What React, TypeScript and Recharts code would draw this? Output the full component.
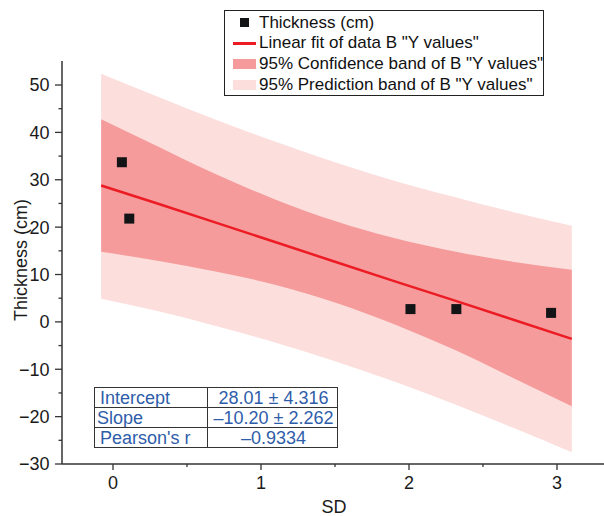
import React from "react";
import { ComposedChart, Area, Line, Scatter, XAxis, YAxis, Legend } from "recharts";

const FONT = '"Liberation Sans", Arial, Helvetica, sans-serif';

// measured points
const sdValues = [0.06, 0.11, 2.01, 2.32, 2.96];
const thicknessValues = [33.7, 21.8, 2.7, 2.7, 1.9];

// fit line and bands
const bandSD = [-0.08, 0.3, 0.7, 1.1, 1.5, 1.9, 2.3, 2.7, 3.1];
const fitLine = [28.8, 25.0, 20.9, 16.8, 12.7, 8.6, 4.6, 0.5, -3.6];
const confLow = [14.8, 12.9, 10.6, 7.8, 4.1, -0.5, -5.8, -11.8, -17.8];
const confHigh = [42.8, 37.1, 31.1, 25.8, 21.3, 17.7, 14.9, 12.7, 11.0];
const predLow = [4.9, 2.3, -0.9, -4.4, -8.3, -12.6, -17.3, -22.3, -27.5];
const predHigh = [52.4, 47.6, 42.6, 38.0, 33.7, 29.8, 26.4, 23.2, 20.3];

const yTicks = [-30, -25, -20, -15, -10, -5, 0, 5, 10, 15, 20, 25, 30, 35, 40, 45, 50];
const xTicks = [0, 0.5, 1, 1.5, 2, 2.5, 3];

const statNames = ["Intercept", "Slope", "Pearson's r"];
const statValues = ["28.01 ± 4.316", "–10.20 ± 2.262", "–0.9334"];

const legendLabels = [
  "Thickness (cm)",
  'Linear fit of data B "Y values"',
  '95% Confidence band of B "Y values"',
  '95% Prediction band of B "Y values"',
];

const RED = "#ec1c24";
const CONF = "#f69b9b";
const PRED = "#fcdedd";
const AXIS = "#333";

const bandData = bandSD.map((sd, i) => ({
  sd,
  fit: fitLine[i],
  conf: [confLow[i], confHigh[i]],
  pred: [predLow[i], predHigh[i]],
}));

const pointData = sdValues.map((sd, i) => ({ sd, thickness: thicknessValues[i] }));

const fmt = (v: number) => (v < 0 ? `\u2212${-v}` : `${v}`);

function YTick({ x, y, payload }: any) {
  const v = payload.value;
  const major = v % 10 === 0;
  return (
    <g>
      <line x1={x - (major ? 7 : 3.5)} x2={x} y1={y} y2={y} stroke={AXIS} strokeWidth={1.3} />
      {major && (
        <text x={x - 12.5} y={y} dy="0.36em" textAnchor="end" fontSize={18} fill="#1a1a1a" fontFamily={FONT}>
          {fmt(v)}
        </text>
      )}
    </g>
  );
}

function XTick({ x, y, payload }: any) {
  const v = payload.value;
  const major = Number.isInteger(v);
  return (
    <g>
      <line x1={x} x2={x} y1={y} y2={y + (major ? 6 : 3)} stroke={AXIS} strokeWidth={1.3} />
      {major && (
        <text x={x} y={y + 25} textAnchor="middle" fontSize={18} fill="#1a1a1a" fontFamily={FONT}>
          {fmt(v)}
        </text>
      )}
    </g>
  );
}

function Square({ cx, cy }: any) {
  return <rect x={cx - 5} y={cy - 5} width={10} height={10} fill="#121416" />;
}

function LegendBox() {
  return (
    <div
      style={{
        position: "relative",
        width: 320,
        height: 86,
        boxSizing: "border-box",
        border: "1.5px solid #222",
        background: "#fff",
        fontFamily: FONT,
        fontSize: 17,
        color: "#111",
      }}
    >
      {legendLabels.map((label, i) => (
        <div
          key={label}
          style={{ position: "absolute", left: 0, top: 1.5 + i * 20.7, height: 20, width: 318, lineHeight: "20px" }}
        >
          {i === 0 && (
            <div style={{ position: "absolute", left: 15, top: 5, width: 9, height: 9, background: "#121416" }} />
          )}
          {i === 1 && (
            <div style={{ position: "absolute", left: 8, top: 9, width: 23, height: 2.5, background: RED }} />
          )}
          {i === 2 && (
            <div style={{ position: "absolute", left: 8, top: 5, width: 23, height: 10, background: CONF }} />
          )}
          {i === 3 && (
            <div style={{ position: "absolute", left: 8, top: 5, width: 23, height: 10, background: PRED }} />
          )}
          <span style={{ position: "absolute", left: 34, top: 0, whiteSpace: "nowrap" }}>{label}</span>
        </div>
      ))}
    </div>
  );
}

export default function App() {
  const cell: React.CSSProperties = {
    border: `1.5px solid ${AXIS}`,
    padding: 0,
    height: 20,
    boxSizing: "border-box",
    lineHeight: "18px",
    whiteSpace: "nowrap",
    overflow: "hidden",
  };
  return (
    <div style={{ position: "absolute", left: 0, top: 0, width: 604, height: 516, background: "#fff" }}>
      <ComposedChart
        width={604}
        height={516}
        data={bandData}
        margin={{ top: 61, right: 0, bottom: 0, left: 0 }}
      >
        <XAxis
          type="number"
          dataKey="sd"
          domain={[-0.3446, 3.3176]}
          ticks={xTicks}
          interval={0}
          allowDataOverflow
          height={52}
          tickSize={0}
          tickMargin={0}
          tickLine={false}
          tick={<XTick />}
          axisLine={{ stroke: AXIS, strokeWidth: 1.5 }}
          label={{
            content: () => (
              <text x={334} y={513} textAnchor="middle" fontSize={18} fill="#1a1a1a" fontFamily={FONT}>
                SD
              </text>
            ),
          }}
        />
        <YAxis
          type="number"
          domain={[-30, 55.07]}
          ticks={yTicks}
          interval={0}
          allowDataOverflow
          width={62}
          tickSize={0}
          tickMargin={0}
          tickLine={false}
          tick={<YTick />}
          axisLine={{ stroke: AXIS, strokeWidth: 1.5 }}
          label={{
            content: () => (
              <text
                transform="translate(27,260) rotate(-90)"
                textAnchor="middle"
                fontSize={18}
                fill="#1a1a1a"
                fontFamily={FONT}
              >
                Thickness (cm)
              </text>
            ),
          }}
        />
        <Area
          type="monotone"
          dataKey="pred"
          stroke="none"
          fill={PRED}
          fillOpacity={1}
          isAnimationActive={false}
        />
        <Area
          type="monotone"
          dataKey="conf"
          stroke="none"
          fill={CONF}
          fillOpacity={1}
          isAnimationActive={false}
        />
        <Line
          type="linear"
          dataKey="fit"
          stroke={RED}
          strokeWidth={2.5}
          dot={false}
          isAnimationActive={false}
        />
        <Scatter data={pointData} dataKey="thickness" shape={<Square />} isAnimationActive={false} />
        <Legend
          layout="vertical"
          align="center"
          verticalAlign="middle"
          content={() => <LegendBox />}
          wrapperStyle={{ left: 224, top: 10, width: 320, height: 86 }}
        />
      </ComposedChart>
      <table
        style={{
          position: "absolute",
          left: 94,
          top: 387,
          width: 243,
          tableLayout: "fixed",
          borderCollapse: "collapse",
          fontFamily: FONT,
          fontSize: 18,
          color: "#2e5daa",
          background: "#fff",
        }}
      >
        <colgroup>
          <col style={{ width: 113 }} />
          <col style={{ width: 130 }} />
        </colgroup>
        <tbody>
          {statNames.map((name, i) => (
            <tr key={name}>
              <td style={{ ...cell, paddingLeft: i === 1 ? 2 : 5 }}>{name}</td>
              <td style={{ ...cell, textAlign: "center", paddingLeft: 2 }}>{statValues[i]}</td>
            </tr>
          ))}
        </tbody>
      </table>
    </div>
  );
}
